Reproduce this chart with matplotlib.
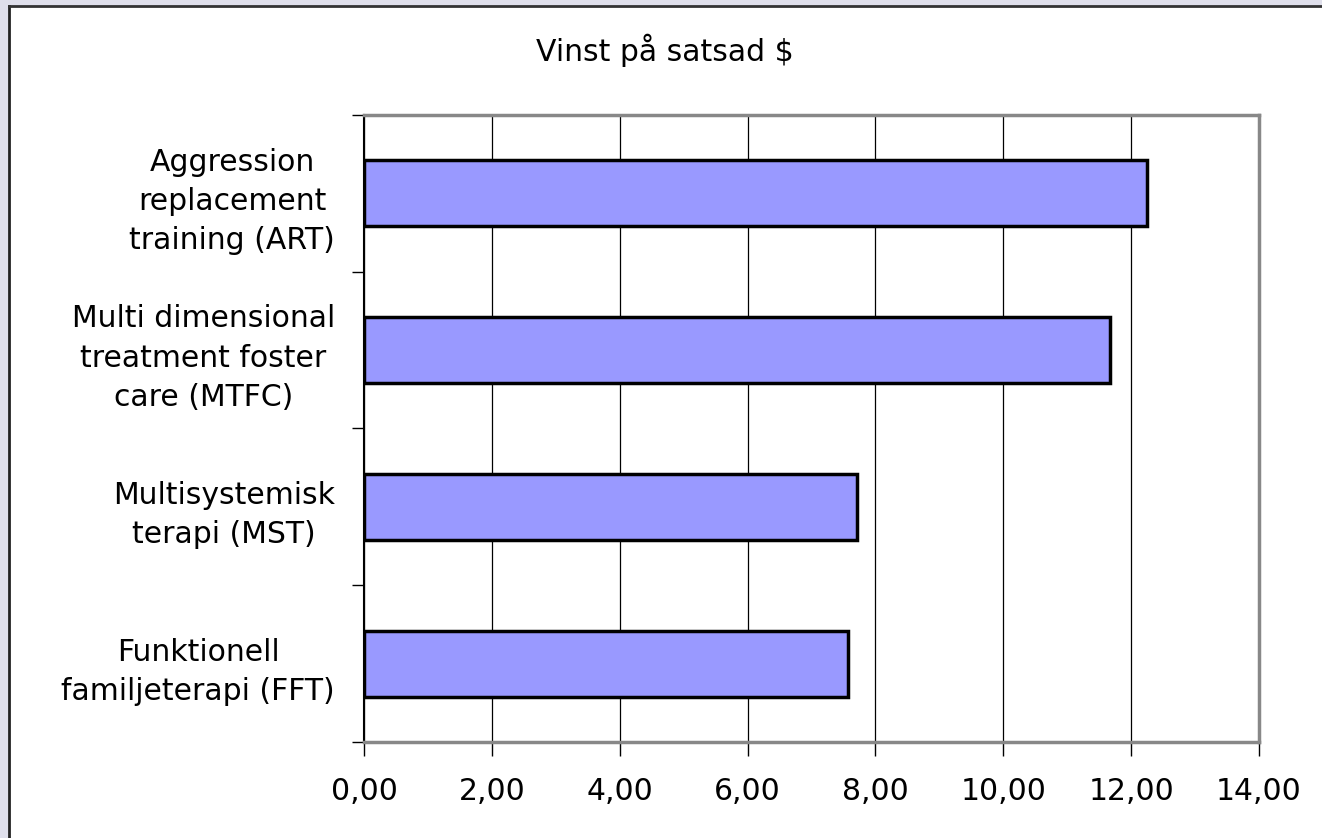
import matplotlib
matplotlib.use("Agg")
import matplotlib.pyplot as plt
import numpy as np
from matplotlib.patches import Rectangle

# data
categories = ["Funktionell\nfamiljeterapi (FFT)",
              "Multisystemisk\nterapi (MST)",
              "Multi dimensional\ntreatment foster\ncare (MTFC)",
              "Aggression\nreplacement\ntraining (ART)"]
values = [7.57, 7.71, 11.67, 12.25]
xticks = [0, 2, 4, 6, 8, 10, 12, 14]
xticklabels = ["0,00", "2,00", "4,00", "6,00", "8,00", "10,00", "12,00", "14,00"]
title = "Vinst på satsad $"

W, H = 1322, 838
fig = plt.figure(figsize=(W / 100, H / 100), dpi=100)
fig.patch.set_facecolor("#dfdfeb")

# white chart area with dark border top/left
top = 1 - 6 / H
fig.patches.append(Rectangle((9 / W, 0), 1 - 9 / W, top, transform=fig.transFigure,
                             facecolor="white", edgecolor="none", zorder=-5))
fig.lines.append(plt.Line2D([9 / W, 9 / W], [0, top], transform=fig.transFigure,
                            color="#222222", lw=2, zorder=-4))
fig.lines.append(plt.Line2D([9 / W, 1], [top, top], transform=fig.transFigure,
                            color="#333333", lw=2, zorder=-4))

ax = fig.add_axes([364 / W, 1 - 742 / H, (1259 - 364) / W, (742 - 115) / H])
ax.set_zorder(2)
ax.set_facecolor("white")

y = np.arange(len(categories))
ax.barh(y, values, height=0.42, color="#9999ff", edgecolor="black", linewidth=2.5, zorder=3)

ax.set_xlim(0, 14)
ax.set_ylim(-0.5, len(categories) - 0.5)
ax.set_xticks(xticks)
ax.set_xticklabels(xticklabels, fontsize=21.5)
ax.xaxis.grid(True, color="black", linewidth=0.9, zorder=0)

ax.set_yticks(y)
ax.set_yticklabels(categories, fontsize=21.5, multialignment="center", linespacing=1.45)
ax.tick_params(axis="y", which="major", length=0, pad=21)
ax.set_yticks(np.arange(-0.5, len(categories)), minor=True)
ax.tick_params(axis="y", which="minor", length=9, width=1, direction="out")
ax.tick_params(axis="x", length=10, width=1, direction="out", pad=15)

for s in ["top", "right", "bottom"]:
    ax.spines[s].set_color("#888888")
    ax.spines[s].set_linewidth(2.5)
ax.spines["left"].set_color("black")
ax.spines["left"].set_linewidth(1.5)

fig.text(665 / W, 1 - 50 / H, title, ha="center", va="center", fontsize=21.5)

fig.savefig("out.png", dpi=100, facecolor=fig.get_facecolor())
